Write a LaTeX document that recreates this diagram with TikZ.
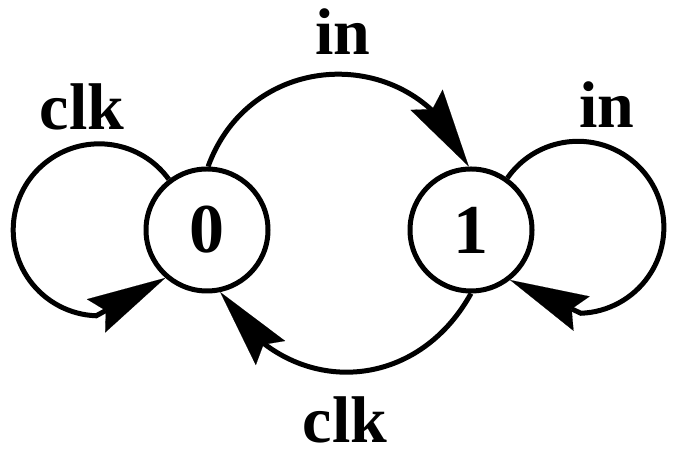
\documentclass[tikz,border=0pt]{standalone}
\usepackage{fontspec}
\setmainfont{Liberation Serif}
\usetikzlibrary{arrows.meta,bending}
\begin{document}
\begin{tikzpicture}[x=1pt,y=1pt,
  state/.style={circle,draw,line width=5pt,minimum size=122pt,inner sep=0pt,
    font=\fontsize{70}{70}\selectfont\bfseries},
  lbl/.style={anchor=base,inner sep=0pt,font=\fontsize{66}{66}\selectfont\bfseries},
  arr/.style={line width=5pt,-{Stealth[length=79pt,width=38pt,inset=11pt,line width=0.1pt,flex]}}]
\useasboundingbox (0,0) rectangle (680,454);
\node[state] (n0) at (207,224) {0};
\node[state] (n1) at (471,224) {1};
% top arc
\draw[arr] (n0.89) .. controls +(70:131) and +(110:131) .. (n1.92);
% bottom arc
\draw[arr] (n1.270) .. controls +(241:121) and +(299:121) .. (n0.-78);
% left loop
\draw[arr] (n0.127) arc[start angle=36,end angle=268,radius=86] -- (n0.229);
% right loop
\draw[arr] (n1.55) arc[start angle=145,end angle=-88,radius=86] -- (n1.-52);
\node[lbl] (lclk) at (82,324) {clk};
\node[lbl] (lin) at (343,399) {in};
\node[lbl] (rin) at (607,326) {in};
\node[lbl] (bclk) at (345,11) {clk};
\end{tikzpicture}
\end{document}
